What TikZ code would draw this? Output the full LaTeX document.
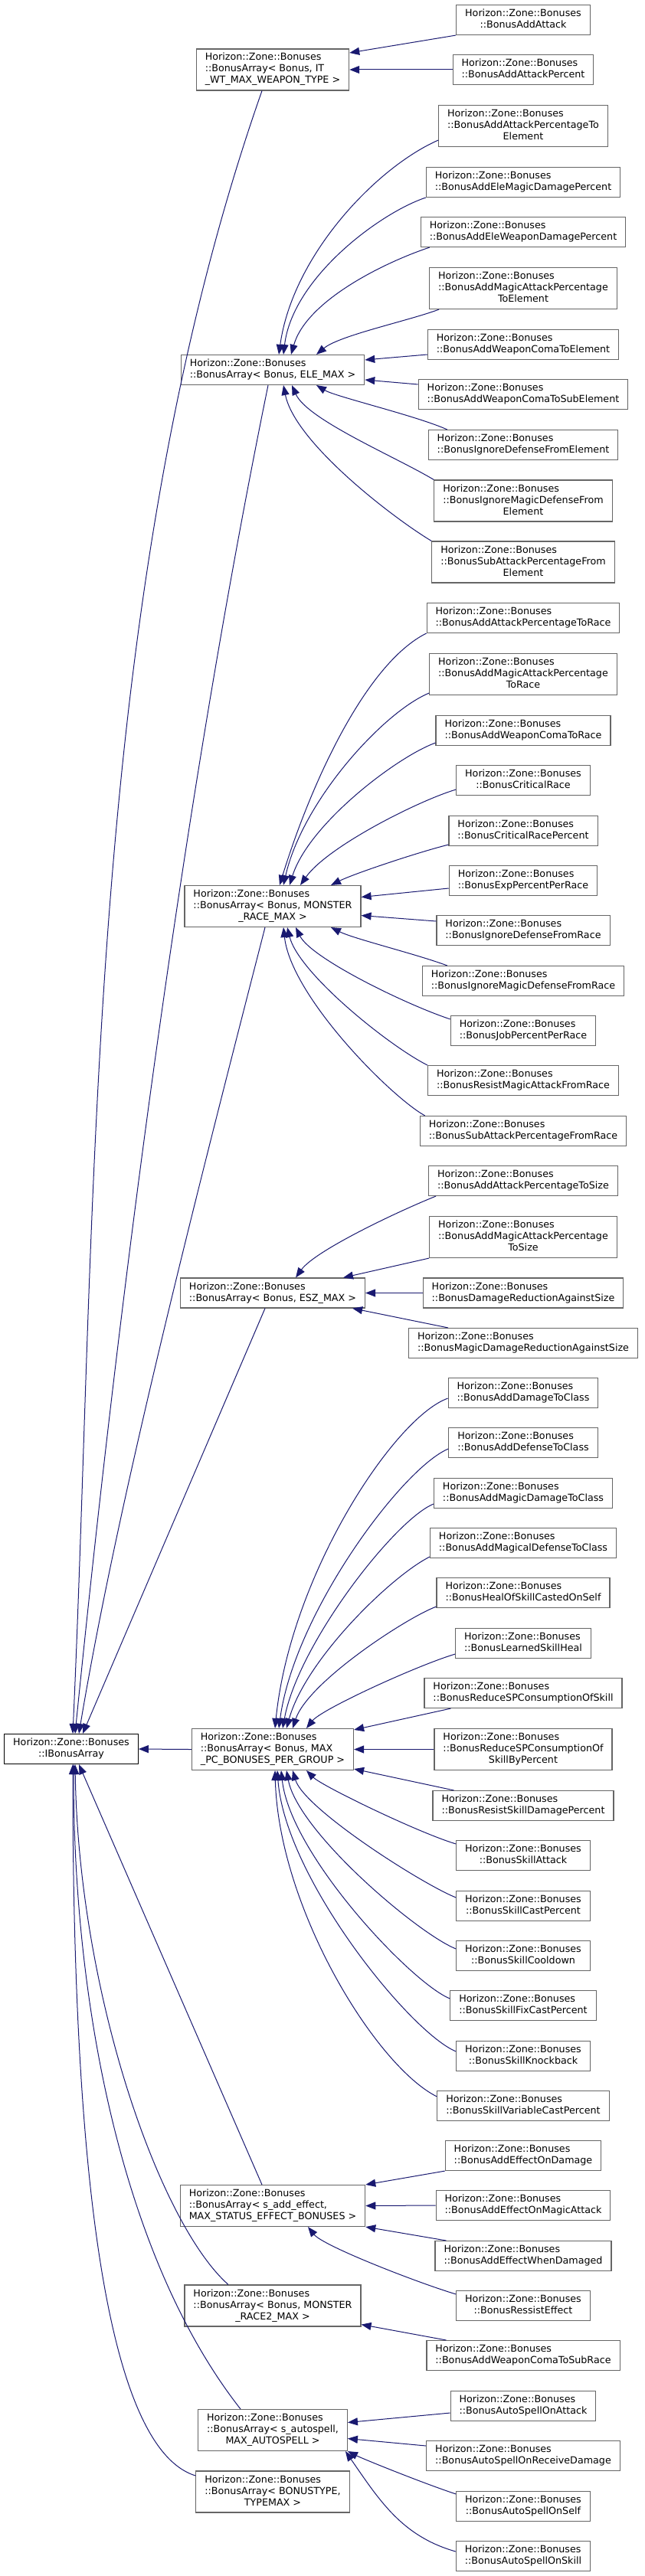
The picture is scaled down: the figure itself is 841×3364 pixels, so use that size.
\documentclass[tikz,border=0pt]{standalone}
\usepackage{fontspec}
\setmainfont{DejaVu Sans}
\usepackage{tikz}
\usetikzlibrary{calc,arrows.meta}
\definecolor{midnight}{HTML}{191970}
\definecolor{boxgray}{HTML}{666666}
\newcommand{\clsfont}{\fontsize{12.7pt}{15pt}\selectfont}
\newcommand{\hzb}[1]{\begin{tabular}{@{}l@{}}Horizon::Zone::Bonuses\\#1\end{tabular}}
\newcommand{\lastln}[1]{\multicolumn{1}{@{}c@{}}{#1}}

\begin{document}
\begin{tikzpicture}[x=1pt, y=-1pt,
		cls/.style={draw=boxgray, fill=white, line width=1.1pt, inner xsep=11.5pt, inner ysep=4.5pt, font=\clsfont},
		inh/.style={draw=midnight, line width=1pt, -{Triangle[length=13pt, width=10pt]}, fill=none}]
			%%%%% START %%%%%
			
			\useasboundingbox (0,0) rectangle (841,3364);
			
			\node[cls, draw=black] (ibase) at (93,2284) {\hzb{\lastln{::IBonusArray}}};
			
			\node[cls] (arrWt) at (356,91) {\hzb{::BonusArray< Bonus, IT\\\lastln{\_WT\_MAX\_WEAPON\_TYPE >}}};
			\node[cls] (arrEle) at (356,483) {\hzb{\lastln{::BonusArray< Bonus, ELE\_MAX >}}};
			\node[cls] (arrRace) at (356,1183.5) {\hzb{::BonusArray< Bonus, MONSTER\\\lastln{\_RACE\_MAX >}}};
			\node[cls] (arrSize) at (356,1688.5) {\hzb{\lastln{::BonusArray< Bonus, ESZ\_MAX >}}};
			\node[cls] (arrPc) at (356,2284.5) {\hzb{::BonusArray< Bonus, MAX\\\lastln{\_PC\_BONUSES\_PER\_GROUP >}}};
			\node[cls] (arrEff) at (356,2880.5) {\hzb{::BonusArray< s\_add\_effect,\\\lastln{MAX\_STATUS\_EFFECT\_BONUSES >}}};
			\node[cls] (arrRace2) at (356,3011) {\hzb{::BonusArray< Bonus, MONSTER\\\lastln{\_RACE2\_MAX >}}};
			\node[cls] (arrSpell) at (356,3173.5) {\hzb{::BonusArray< s\_autospell,\\\lastln{MAX\_AUTOSPELL >}}};
			\node[cls] (arrType) at (356,3254) {\hzb{::BonusArray< BONUSTYPE,\\\lastln{TYPEMAX >}}};
			
			% weapon type
			\node[cls] (addAtk) at (683,26) {\hzb{\lastln{::BonusAddAttack}}};
			\node[cls] (addAtkPct) at (683,91) {\hzb{\lastln{::BonusAddAttackPercent}}};
			
			% element
			\node[cls] (atkPctEle) at (683,164.5) {\hzb{::BonusAddAttackPercentageTo\\\lastln{Element}}};
			\node[cls] (eleMagDmg) at (683,238) {\hzb{\lastln{::BonusAddEleMagicDamagePercent}}};
			\node[cls] (eleWpnDmg) at (683,303) {\hzb{\lastln{::BonusAddEleWeaponDamagePercent}}};
			\node[cls] (magAtkEle) at (683,376.5) {\hzb{::BonusAddMagicAttackPercentage\\\lastln{ToElement}}};
			\node[cls] (comaEle) at (683,450) {\hzb{\lastln{::BonusAddWeaponComaToElement}}};
			\node[cls] (comaSubEle) at (683,515) {\hzb{\lastln{::BonusAddWeaponComaToSubElement}}};
			\node[cls] (ignDefEle) at (683,581) {\hzb{\lastln{::BonusIgnoreDefenseFromElement}}};
			\node[cls] (ignMagDefEle) at (683,654) {\hzb{::BonusIgnoreMagicDefenseFrom\\\lastln{Element}}};
			\node[cls] (subAtkEle) at (683,734) {\hzb{::BonusSubAttackPercentageFrom\\\lastln{Element}}};
			
			% race
			\node[cls] (atkPctRace) at (683,807) {\hzb{\lastln{::BonusAddAttackPercentageToRace}}};
			\node[cls] (magAtkRace) at (683,880.5) {\hzb{::BonusAddMagicAttackPercentage\\\lastln{ToRace}}};
			\node[cls] (comaRace) at (683,954) {\hzb{\lastln{::BonusAddWeaponComaToRace}}};
			\node[cls] (critRace) at (683,1019) {\hzb{\lastln{::BonusCriticalRace}}};
			\node[cls] (critRacePct) at (683,1085) {\hzb{\lastln{::BonusCriticalRacePercent}}};
			\node[cls] (expRace) at (683,1150) {\hzb{\lastln{::BonusExpPercentPerRace}}};
			\node[cls] (ignDefRace) at (683,1215) {\hzb{\lastln{::BonusIgnoreDefenseFromRace}}};
			\node[cls] (ignMagDefRace) at (683,1281) {\hzb{\lastln{::BonusIgnoreMagicDefenseFromRace}}};
			\node[cls] (jobRace) at (683,1346) {\hzb{\lastln{::BonusJobPercentPerRace}}};
			\node[cls] (resMagRace) at (683,1411) {\hzb{\lastln{::BonusResistMagicAttackFromRace}}};
			\node[cls] (subAtkRace) at (683,1477) {\hzb{\lastln{::BonusSubAttackPercentageFromRace}}};
			
			% size
			\node[cls] (atkPctSize) at (683,1542) {\hzb{\lastln{::BonusAddAttackPercentageToSize}}};
			\node[cls] (magAtkSize) at (683,1615.5) {\hzb{::BonusAddMagicAttackPercentage\\\lastln{ToSize}}};
			\node[cls] (dmgRedSize) at (683,1688.5) {\hzb{\lastln{::BonusDamageReductionAgainstSize}}};
			\node[cls] (magDmgRedSize) at (683,1754) {\hzb{\lastln{::BonusMagicDamageReductionAgainstSize}}};
			
			% pc bonuses
			\node[cls] (dmgClass) at (683,1819) {\hzb{\lastln{::BonusAddDamageToClass}}};
			\node[cls] (defClass) at (683,1884) {\hzb{\lastln{::BonusAddDefenseToClass}}};
			\node[cls] (magDmgClass) at (683,1950) {\hzb{\lastln{::BonusAddMagicDamageToClass}}};
			\node[cls] (magDefClass) at (683,2015) {\hzb{\lastln{::BonusAddMagicalDefenseToClass}}};
			\node[cls] (healSelf) at (683,2080) {\hzb{\lastln{::BonusHealOfSkillCastedOnSelf}}};
			\node[cls] (learnedHeal) at (683,2146) {\hzb{\lastln{::BonusLearnedSkillHeal}}};
			\node[cls] (reduceSP) at (683,2211) {\hzb{\lastln{::BonusReduceSPConsumptionOfSkill}}};
			\node[cls] (reduceSPPct) at (683,2284.5) {\hzb{::BonusReduceSPConsumptionOf\\\lastln{SkillByPercent}}};
			\node[cls] (resSkillDmg) at (683,2358) {\hzb{\lastln{::BonusResistSkillDamagePercent}}};
			\node[cls] (skillAtk) at (683,2423) {\hzb{\lastln{::BonusSkillAttack}}};
			\node[cls] (skillCast) at (683,2489) {\hzb{\lastln{::BonusSkillCastPercent}}};
			\node[cls] (skillCd) at (683,2554) {\hzb{\lastln{::BonusSkillCooldown}}};
			\node[cls] (skillFixCast) at (683,2619) {\hzb{\lastln{::BonusSkillFixCastPercent}}};
			\node[cls] (skillKnock) at (683,2685) {\hzb{\lastln{::BonusSkillKnockback}}};
			\node[cls] (skillVarCast) at (683,2750) {\hzb{\lastln{::BonusSkillVariableCastPercent}}};
			
			% effects, race2, autospell
			\node[cls] (effDmg) at (683,2815) {\hzb{\lastln{::BonusAddEffectOnDamage}}};
			\node[cls] (effMagAtk) at (683,2880) {\hzb{\lastln{::BonusAddEffectOnMagicAttack}}};
			\node[cls] (effWhenDmg) at (683,2946) {\hzb{\lastln{::BonusAddEffectWhenDamaged}}};
			\node[cls] (ressistEff) at (683,3011) {\hzb{\lastln{::BonusRessistEffect}}};
			\node[cls] (comaSubRace) at (683,3076) {\hzb{\lastln{::BonusAddWeaponComaToSubRace}}};
			\node[cls] (spellAtk) at (683,3142) {\hzb{\lastln{::BonusAutoSpellOnAttack}}};
			\node[cls] (spellRecv) at (683,3207) {\hzb{\lastln{::BonusAutoSpellOnReceiveDamage}}};
			\node[cls] (spellSelf) at (683,3273) {\hzb{\lastln{::BonusAutoSpellOnSelf}}};
			\node[cls] (spellSkill) at (683,3338) {\hzb{\lastln{::BonusAutoSpellOnSkill}}};
			
			% into IBonusArray
			\draw[inh] (arrPc.west) -- (ibase.east);
			\draw[inh] ([xshift=-14pt]arrWt.south) .. controls +(-231,658) and +(32,-700) .. ([xshift=2pt]ibase.north);
			\draw[inh] ([xshift=-6pt]arrEle.south) .. controls +(-120,588) and +(50,-497) .. ([xshift=5pt]ibase.north);
			\draw[inh] ([xshift=-10pt]arrRace.south) .. controls +(-90,350) and +(50,-300) .. ([xshift=10pt]ibase.north);
			\draw[inh] ([xshift=-10pt]arrSize.south) -- ([xshift=15pt]ibase.north);
			\draw[inh] ([xshift=-14pt]arrEff.north) -- ([xshift=10pt]ibase.south);
			\draw[inh] ([xshift=-58pt]arrRace2.north) .. controls +(-90,-80) and +(5,300) .. ([xshift=5pt]ibase.south);
			\draw[inh] ([xshift=-42pt]arrSpell.north) .. controls +(-149,-190) and +(0,330) .. ([xshift=3pt]ibase.south);
			\draw[inh] ([yshift=21pt]arrType.west) .. controls +(-130,-40) and +(0,450) .. ([xshift=2pt]ibase.south);
			
			% weapon type
			\draw[inh] (addAtk.south west) -- ([yshift=22pt]arrWt.east);
			\draw[inh] (addAtkPct.west) -- (arrWt.east);
			
			% element
			\draw[inh] ([yshift=9pt]atkPctEle.south west) .. controls +(-80,35) and +(18,-130) .. ([xshift=8pt]arrEle.north);
			\draw[inh] (eleMagDmg.south west) .. controls +(-60,20) and +(12,-100) .. ([xshift=14pt]arrEle.north);
			\draw[inh] ([xshift=12pt]eleWpnDmg.south west) .. controls +(-60,20) and +(20,-70) .. ([xshift=24pt]arrEle.north);
			\draw[inh] ([xshift=13pt]magAtkEle.south west) .. controls +(-40,15) and +(30,-25) .. ([xshift=57pt]arrEle.north);
			\draw[inh] ([yshift=-13pt]comaEle.west) -- ([yshift=13pt]arrEle.east);
			\draw[inh] ([yshift=13pt]comaSubEle.west) -- ([yshift=-13pt]arrEle.east);
			\draw[inh] ([xshift=25pt]ignDefEle.north west) .. controls +(-40,-18) and +(25,15) .. ([xshift=57pt]arrEle.south);
			\draw[inh] (ignMagDefEle.north west) .. controls +(-50,-30) and +(20,45) .. ([xshift=25pt]arrEle.south);
			\draw[inh] (subAtkEle.north west) .. controls +(-50,-30) and +(15,75) .. ([xshift=14pt]arrEle.south);
			
			% race
			\draw[inh] (atkPctRace.south west) .. controls +(-80,40) and +(40,-130) .. ([xshift=9pt]arrRace.north);
			\draw[inh] ([yshift=3pt]magAtkRace.south west) .. controls +(-60,25) and +(25,-110) .. ([xshift=14pt]arrRace.north);
			\draw[inh] ([yshift=4pt]comaRace.south west) .. controls +(-50,18) and +(25,-80) .. ([xshift=22pt]arrRace.north);
			\draw[inh] ([yshift=8pt]critRace.south west) .. controls +(-50,15) and +(35,-50) .. ([xshift=36pt]arrRace.north);
			\draw[inh] ([yshift=2pt]critRacePct.south west) .. controls +(-40,10) and +(30,-15) .. ([xshift=76pt]arrRace.north);
			\draw[inh] ([yshift=-10pt]expRace.west) -- ([yshift=12pt]arrRace.east);
			\draw[inh] ([yshift=12pt]ignDefRace.west) -- ([yshift=-12pt]arrRace.east);
			\draw[inh] ([xshift=33pt]ignMagDefRace.north west) .. controls +(-40,-15) and +(30,15) .. ([xshift=76pt]arrRace.south);
			\draw[inh] ([yshift=-5pt]jobRace.north west) .. controls +(-60,-20) and +(20,40) .. ([xshift=30pt]arrRace.south);
			\draw[inh] (resMagRace.north west) .. controls +(-50,-25) and +(15,60) .. ([xshift=19pt]arrRace.south);
			\draw[inh] ([xshift=7pt]subAtkRace.north west) .. controls +(-45,-25) and +(10,90) .. ([xshift=14pt]arrRace.south);
			
			% size
			\draw[inh] ([xshift=10pt]atkPctSize.south west) .. controls +(-50,20) and +(25,-35) .. ([xshift=30pt]arrSize.north);
			\draw[inh] (magAtkSize.south west) -- ([xshift=92pt]arrSize.north);
			\draw[inh] (dmgRedSize.west) -- (arrSize.east);
			\draw[inh] ([xshift=52pt]magDmgRedSize.north west) -- ([xshift=-17pt]arrSize.south east);
			
			% pc bonuses
			\draw[inh] ([yshift=13pt]dmgClass.south west) .. controls +(-70,25) and +(20,-200) .. ([xshift=3pt]arrPc.north);
			\draw[inh] ([yshift=12pt]defClass.south west) .. controls +(-60,25) and +(20,-150) .. ([xshift=8pt]arrPc.north);
			\draw[inh] ([yshift=6pt]magDmgClass.south west) .. controls +(-50,20) and +(20,-110) .. ([xshift=13pt]arrPc.north);
			\draw[inh] ([yshift=2pt]magDefClass.south west) .. controls +(-50,25) and +(25,-90) .. ([xshift=18pt]arrPc.north);
			\draw[inh] ([yshift=2pt]healSelf.south west) .. controls +(-40,15) and +(20,-60) .. ([xshift=26pt]arrPc.north);
			\draw[inh] ([yshift=6pt]learnedHeal.south west) .. controls +(-50,15) and +(20,-25) .. ([xshift=44pt]arrPc.north);
			\draw[inh] ([xshift=35pt]reduceSP.south west) -- ([yshift=-2pt]arrPc.north east);
			\draw[inh] (reduceSPPct.west) -- (arrPc.east);
			\draw[inh] ([xshift=28pt]resSkillDmg.north west) -- ([yshift=2pt]arrPc.south east);
			\draw[inh] ([yshift=-5pt]skillAtk.north west) .. controls +(-50,-15) and +(20,20) .. ([xshift=44pt]arrPc.south);
			\draw[inh] ([yshift=-9pt]skillCast.north west) .. controls +(-45,-18) and +(15,50) .. ([xshift=26pt]arrPc.south);
			\draw[inh] ([yshift=-11pt]skillCd.north west) .. controls +(-50,-20) and +(15,80) .. ([xshift=18pt]arrPc.south);
			\draw[inh] ([yshift=-11pt]skillFixCast.north west) .. controls +(-50,-20) and +(12,110) .. ([xshift=11pt]arrPc.south);
			\draw[inh] ([yshift=-14pt]skillKnock.north west) .. controls +(-60,-25) and +(10,140) .. ([xshift=6pt]arrPc.south);
			\draw[inh] ([yshift=-8pt]skillVarCast.north west) .. controls +(-80,-40) and +(5,180) .. ([xshift=3pt]arrPc.south);
			
			% effects
			\draw[inh] (effDmg.south west) -- (arrEff.north east);
			\draw[inh] (effMagAtk.west) -- (arrEff.east);
			\draw[inh] ([xshift=15pt]effWhenDmg.north west) -- (arrEff.south east);
			\draw[inh] ([yshift=-5pt]ressistEff.north west) .. controls +(-50,-15) and +(20,25) .. ([xshift=46pt]arrEff.south);
			
			% race2
			\draw[inh] ([xshift=26pt]comaSubRace.north west) -- ([yshift=3pt]arrRace2.south east);
			
			% autospell
			\draw[inh] ([yshift=-9pt]spellAtk.west) -- ([yshift=10pt]arrSpell.east);
			\draw[inh] ([yshift=13pt]spellRecv.west) -- ([yshift=-11pt]arrSpell.east);
			\draw[inh] ([yshift=-4pt]spellSelf.north west) .. controls +(-45,-15) and +(20,10) .. (arrSpell.south east);
			\draw[inh] ([yshift=6pt]spellSkill.west) .. controls +(-70,-20) and +(45,65) .. ([xshift=-3pt]arrSpell.south east);
			
			%%%%% END %%%%%
\end{tikzpicture}
\end{document}
